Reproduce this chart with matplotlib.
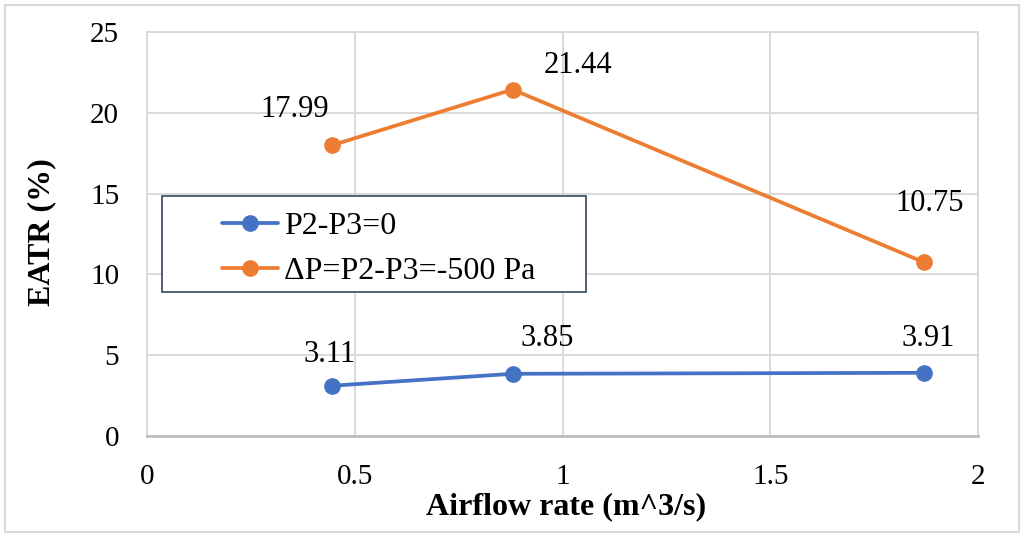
import matplotlib
matplotlib.use("Agg")
import matplotlib.pyplot as plt
from matplotlib.patches import Rectangle

# Airflow rate (m^3/s) and EATR (%) for the two pressure conditions
airflow = [0.445, 0.88, 1.87]
eatr_zero = [3.11, 3.85, 3.91]
eatr_neg500 = [17.99, 21.44, 10.75]
series_labels = ["P2-P3=0", "ΔP=P2-P3=-500 Pa"]

x_ticks = [0, 0.5, 1, 1.5, 2]
y_ticks = [0, 5, 10, 15, 20, 25]

BLUE = "#4472C4"
ORANGE = "#ED7D31"
GRID = "#D9D9D9"
FS_TICK = 21
FS_VALUE = 22
FS_TITLE = 23
FS_LEGEND = 23

plt.rcParams["font.family"] = ["Liberation Serif", "DejaVu Serif"]

fig = plt.figure(figsize=(10.24, 5.37), dpi=100)
ax = fig.add_axes([147 / 1024, 1 - 436 / 537, (978 - 147) / 1024, (436 - 32) / 537])

ax.plot(airflow, eatr_zero, color=BLUE, lw=2.7, marker="o", ms=11,
        label=series_labels[0], solid_capstyle="round", zorder=3)
ax.plot(airflow, eatr_neg500, color=ORANGE, lw=2.7, marker="o", ms=11,
        label=series_labels[1], solid_capstyle="round", zorder=3)

ax.set_xlim(0, 2)
ax.set_ylim(0, 25)
ax.set_xticks(x_ticks)
ax.set_xticklabels([f"{t:g}" for t in x_ticks])
ax.set_yticks(y_ticks)
ax.tick_params(length=0, labelsize=FS_TICK)
ax.tick_params(axis="y", pad=20)
ax.tick_params(axis="x", pad=20)
ax.grid(True, color=GRID, lw=1.4, zorder=0)
ax.set_axisbelow(True)
for side in ["top", "right", "left"]:
    ax.spines[side].set_color(GRID)
    ax.spines[side].set_linewidth(1.4)
ax.spines["bottom"].set_color("#BFBFBF")
ax.spines["bottom"].set_linewidth(2)

ax.set_xlabel("Airflow rate (m^3/s)", fontsize=FS_TITLE, fontweight="bold")
ax.set_ylabel("EATR (%)", fontsize=FS_TITLE, fontweight="bold")
ax.xaxis.set_label_coords(566 / 1024, 1 - 507 / 537, transform=fig.transFigure)
ax.yaxis.set_label_coords(42 / 1024, 1 - 232 / 537, transform=fig.transFigure)
ax.xaxis.label.set_va("center")
ax.yaxis.label.set_va("center")

# value labels, offsets in pixels from each point
offsets_zero = [(-2, 31), (35, 35), (4, 34)]
offsets_neg = [(-37, 36), (65, 24), (6, 59)]
for xs, ys, offs in [(airflow, eatr_zero, offsets_zero), (airflow, eatr_neg500, offsets_neg)]:
    for x, y, (dx, dy) in zip(xs, ys, offs):
        ax.annotate(f"{y:.2f}", (x, y), xytext=(dx, dy), textcoords="offset pixels",
                    ha="center", va="center", fontsize=FS_VALUE)

# legend with a framed box
box = Rectangle((162 / 1024, 1 - 292 / 537), (586 - 162) / 1024, (292 - 196) / 537,
                transform=fig.transFigure, fill=True, facecolor="white",
                edgecolor="#44546A", lw=1.3, zorder=4)
fig.patches.append(box)
leg = fig.legend(loc="upper left", bbox_to_anchor=(222 / 1024, 1 - 212 / 537),
                 frameon=False, fontsize=FS_LEGEND, handlelength=1.75, handletextpad=0.2,
                 labelspacing=0.48, borderaxespad=0, borderpad=0)
leg.set_zorder(5)

# outer figure border
fig.patches.append(Rectangle((5 / 1024, 5 / 537), 1014 / 1024, 527 / 537,
                             transform=fig.transFigure, fill=False,
                             edgecolor="#D9D9D9", lw=1.5))

fig.savefig("out.png", dpi=100)
